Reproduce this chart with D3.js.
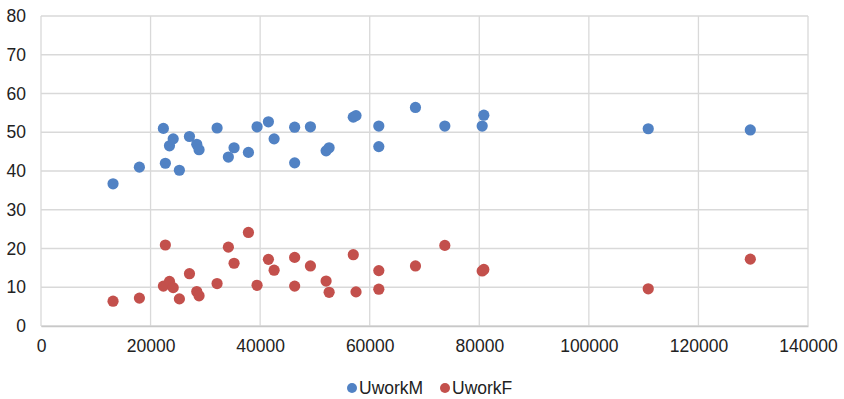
<!DOCTYPE html>
<html>
<head>
<meta charset="utf-8">
<script src="https://cdn.jsdelivr.net/npm/d3@7"></script>
<style>
  html, body { margin: 0; padding: 0; background: #fff; }
  svg { display: block; font-family: "Liberation Sans", Arial, sans-serif; }
</style>
</head>
<body>
<svg id="chart" width="844" height="399"></svg>
<script>
// Income per person (x) against unemployment shares for men and women (y)
const income = [13150, 17960, 22340, 22700, 23450, 24130, 25260, 27100, 28430, 28850,
                32140, 34200, 35240, 37860, 39440, 41510, 42550, 46300, 46300, 49180,
                52040, 52590, 57000, 57500, 61660, 61660, 68350, 73710, 80530, 80830,
                110840, 129470];
const uworkM = [36.7, 41.0, 51.0, 42.0, 46.5, 48.3, 40.2, 48.9, 46.9, 45.5,
                51.1, 43.6, 46.0, 44.8, 51.4, 52.7, 48.3, 51.3, 42.1, 51.4,
                45.2, 46.0, 53.9, 54.3, 51.6, 46.3, 56.4, 51.6, 51.6, 54.4,
                50.9, 50.6];
const uworkF = [6.4, 7.2, 10.3, 20.9, 11.5, 9.9, 7.0, 13.5, 8.9, 7.8,
                10.95, 20.35, 16.2, 24.15, 10.5, 17.2, 14.4, 17.7, 10.3, 15.5,
                11.6, 8.7, 18.4, 8.8, 14.3, 9.5, 15.5, 20.8, 14.2, 14.6,
                9.6, 17.25];

const seriesNames = ["UworkM", "UworkF"];
const seriesColors = ["#5182c4", "#c3504c"];
const xTicks = [0, 20000, 40000, 60000, 80000, 100000, 120000, 140000];
const yTicks = [0, 10, 20, 30, 40, 50, 60, 70, 80];

const svg = d3.select("#chart");
const plot = { left: 41, right: 808, top: 16, bottom: 326 };
const fontSize = 17.5;

const x = d3.scaleLinear().domain([0, 140000]).range([plot.left, plot.right]);
const y = d3.scaleLinear().domain([0, 80]).range([plot.bottom, plot.top]);

const grid = "#d9d9d9";

// horizontal gridlines
svg.append("g").selectAll("line").data(yTicks).join("line")
  .attr("x1", plot.left).attr("x2", plot.right)
  .attr("y1", d => y(d)).attr("y2", d => y(d))
  .attr("stroke", grid).attr("stroke-width", 1.3);

// vertical gridlines
svg.append("g").selectAll("line").data(xTicks).join("line")
  .attr("x1", d => x(d)).attr("x2", d => x(d))
  .attr("y1", plot.top).attr("y2", plot.bottom)
  .attr("stroke", grid).attr("stroke-width", 1.3);

// y axis labels
const yAxis = d3.axisLeft(y).tickValues(yTicks).tickSize(0).tickPadding(15);
svg.append("g").attr("transform", `translate(${plot.left},0)`).call(yAxis)
  .call(g => g.select(".domain").remove())
  .call(g => g.selectAll("text").attr("font-size", fontSize).attr("fill", "#222")
    .attr("font-family", "Liberation Sans, Arial, sans-serif"));

// x axis labels
const xAxis = d3.axisBottom(x).tickValues(xTicks).tickSize(0).tickPadding(14)
  .tickFormat(d3.format("d"));
svg.append("g").attr("transform", `translate(0,${plot.bottom})`).call(xAxis)
  .call(g => g.select(".domain").attr("stroke", "#c8c8c8").attr("stroke-width", 1.3))
  .call(g => g.selectAll("text").attr("font-size", fontSize).attr("fill", "#222")
    .attr("font-family", "Liberation Sans, Arial, sans-serif"));

// points
const series = [uworkM, uworkF];
series.forEach((vals, si) => {
  svg.append("g").selectAll("circle").data(vals).join("circle")
    .attr("cx", (d, i) => x(income[i]))
    .attr("cy", d => y(d))
    .attr("r", 5.6)
    .attr("fill", seriesColors[si]);
});

// legend
const legend = svg.append("g").attr("transform", "translate(0,388)");
const legendX = [352, 445];
seriesNames.forEach((name, i) => {
  legend.append("circle").attr("cx", legendX[i]).attr("cy", 0).attr("r", 5)
    .attr("fill", seriesColors[i]);
  legend.append("text").attr("x", legendX[i] + 7).attr("y", 0)
    .attr("dy", "0.35em").attr("font-size", fontSize).attr("fill", "#222")
    .text(name);
});
</script>
</body>
</html>
